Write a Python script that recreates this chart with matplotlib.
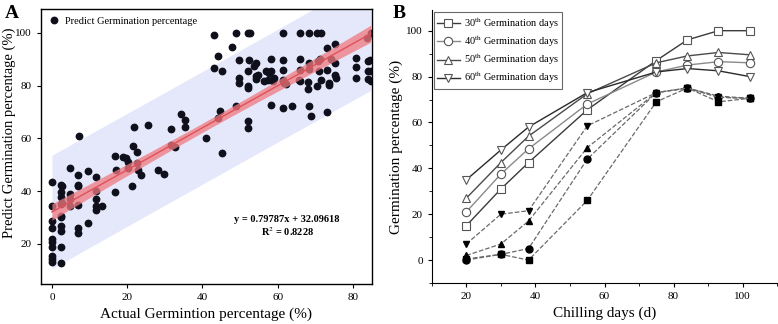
import numpy as np
import matplotlib.pyplot as plt
from matplotlib.ticker import MultipleLocator

plt.rcParams['font.family'] = ['Liberation Serif', 'DejaVu Serif']
plt.rcParams['mathtext.fontset'] = 'stix'

# ---- Panel A: predicted vs actual germination ----
actual = [
    0, 0, 0, 0, 0, 0, 0, 0, 0, 0,
    2.4, 2.6, 2.5, 2.5, 2.4, 2.4, 2.4, 2.4, 2.4, 2.4, 2.4, 2.6,
    4.9, 4.7, 4.7, 4.7,
    7.1, 6.9, 6.9, 6.9, 6.9, 6.9, 6.9,
    9.5, 9.5,
    11.6, 11.6, 11.7, 11.6, 11.7, 13.4,
    16.8, 16.9, 16.8,
    19.0, 19.7, 20.3, 20.3,
    21.2, 21.6, 21.8, 22.5, 22.6, 22.8, 23.7,
    25.6, 28.2, 29.8,
    31.7, 31.7, 32.8, 34.2, 35.4, 35.4, 40.8,
    43.0, 43.0, 44.2, 44.2, 44.7, 45.1, 45.2,
    47.8, 48.9, 48.9, 49.6, 49.6, 49.6,
    52.0, 52.5, 52.3, 52.0, 52.0, 52.0, 52.0, 52.0,
    53.8, 54.2, 54.2, 54.1, 54.7,
    56.4, 56.9, 57.3, 57.6,
    58.2, 58.2, 58.2, 58.6, 59.1,
    61.3, 61.3, 61.3, 61.3, 61.3, 61.3, 61.7, 62.2, 63.8,
    66.0, 66.0, 66.0, 65.7, 66.0,
    68.3, 68.3, 67.9, 67.9, 68.3, 68.8, 68.3,
    70.5, 71.4, 70.3, 70.8, 71.2, 71.0, 71.4,
    73.2, 73.2, 73.2, 73.6, 73.6, 74.1,
    75.2, 75.2, 75.2, 75.4,
    80.7, 80.7, 80.7,
    83.8, 84.0, 84.4, 84.7, 84.0, 84.7, 84.0, 84.7,
]
predicted = [
    43.3, 34.2, 28.5, 26.0, 21.8, 20.9, 19.0, 15.4, 14.2, 13.3,
    42.4, 41.8, 39.6, 37.7, 35.2, 30.6, 30.1, 26.6, 24.7, 19.0, 12.9, 35.4,
    48.7, 39.0, 37.0, 34.4,
    61.0, 46.2, 42.4, 41.8, 34.8, 26.0, 24.3,
    47.8, 27.8,
    45.3, 39.9, 37.1, 34.4, 32.7, 34.4,
    53.4, 48.1, 39.5,
    52.8, 52.5, 50.9, 48.7,
    41.8, 57.2, 64.3, 50.6, 54.7, 48.1, 46.0,
    64.9, 48.1, 46.5,
    57.3, 63.7, 56.7, 69.2, 66.8, 64.2, 60.1,
    99.0, 86.5, 91.4, 67.7, 70.3, 54.4, 85.7,
    94.7, 99.9, 72.2, 89.6, 82.9, 81.0,
    100.0, 100.0, 89.6, 85.7, 79.7, 79.1, 66.5, 63.8,
    87.3, 88.6, 83.5, 82.5, 84.2,
    81.6, 85.4, 82.3, 84.8,
    90.1, 85.4, 72.8, 81.6, 82.9,
    100.0, 89.6, 85.8, 82.3, 81.6, 71.5, 81.0, 80.6, 72.2,
    100.0, 90.1, 85.8, 82.0, 81.6,
    100.0, 86.3, 81.3, 78.7, 72.2, 68.4, 88.6,
    100.0, 100.0, 79.7, 89.2, 89.9, 85.7, 82.3,
    94.3, 69.9, 85.8, 81.0, 80.4, 89.9,
    95.6, 88.6, 84.2, 82.9,
    90.5, 87.1, 82.7,
    98.1, 89.2, 89.6, 100.0, 85.7, 85.4, 82.5, 81.9,
]
slope, intercept = 0.79787, 32.09618

# ---- Panel B: germination vs chilling days ----
chill_days = [20, 30, 38, 55, 75, 84, 93, 102]
open_series = {
    '30': [15, 31, 42.5, 65.5, 87, 96, 100, 100],
    '40': [21, 37.5, 48.5, 68, 82, 85, 86.5, 86],
    '50': [27, 42.5, 54, 72.5, 86, 89, 90.5, 89.5],
    '60': [35, 48, 58, 73, 82, 83.5, 82.5, 80],
}
filled_series = {
    '30': [0.5, 2.5, 0, 26, 69, 75, 69, 70.5],
    '40': [0, 2.5, 5, 44, 73, 75, 71, 70.5],
    '50': [2, 7, 17, 49, 73, 75, 71.5, 70.5],
    '60': [7, 20, 21.5, 58.5, 73, 75, 71, 70.5],
}
markers = {'30': 's', '40': 'o', '50': '^', '60': 'v'}
line_cols = {'30': '#3a3a3a', '40': '#8a8a8a', '50': '#4a4a4a', '60': '#2a2a2a'}

fig = plt.figure(figsize=(7.78, 3.24), dpi=100)

# ================= A =================
axA = fig.add_axes([0.0527, 0.1235, 0.4253, 0.8485])
x = np.array(actual)
y = np.array(predicted)
n = len(x)
resid = y - (slope * x + intercept)
s = np.sqrt(np.sum(resid ** 2) / (n - 2))
xm = x.mean()
sxx = np.sum((x - xm) ** 2)
xs = np.linspace(0, 84.7, 200)
fit = slope * xs + intercept
t = 1.976
ci = t * s * np.sqrt(1 / n + (xs - xm) ** 2 / sxx)
pi = t * s * np.sqrt(1 + 1 / n + (xs - xm) ** 2 / sxx)

axA.fill_between(xs, fit - pi, fit + pi, color='#e5e8fa', lw=0, zorder=1)
axA.plot(x, y, 'o', color='#10101c', ms=4.6, zorder=2,
         label='Predict Germination percentage')
axA.fill_between(xs, fit - ci, fit + ci, color='#f07a80', alpha=0.75, lw=0, zorder=3)
axA.plot(xs, fit, color='#e0505a', lw=1.0, zorder=4)

axA.set_xlim(-2.9, 85)
axA.set_ylim(4.8, 109)
axA.set_xticks([0, 20, 40, 60, 80])
axA.set_yticks([20, 40, 60, 80, 100])
axA.tick_params(direction='out', length=3, labelsize=8, top=False, right=False)
for sp in axA.spines.values():
    sp.set_linewidth(1.0)
axA.set_xlabel('Actual Germintion percentage (%)', fontsize=11, labelpad=4)
axA.set_ylabel('Predict Germination percentage (%)', fontsize=10.5)
axA.yaxis.set_label_coords(-0.075, 0.55)
axA.legend(loc='upper left', frameon=False, fontsize=7.5, handletextpad=0.6,
           borderaxespad=0.3, handlelength=1.0, markerscale=1.0)
axA.text(62.5, 26.5, 'y = 0.79787x + 32.09618\nR$^2$ = 0.8228', ha='center', va='center',
         fontsize=7.5, fontweight='bold', linespacing=1.1)
fig.text(0.006, 0.985, 'A', fontsize=14, fontweight='bold', va='top')

# ================= B =================
axB = fig.add_axes([0.555, 0.1265, 0.444, 0.8425])
for key in ['30', '40', '50', '60']:
    axB.plot(chill_days, filled_series[key], ls='--', color='#6a6a6a', lw=0.9,
             marker=markers[key], ms=5, mfc='black', mec='black', zorder=2)
for key in ['30', '40', '50', '60']:
    axB.plot(chill_days, open_series[key], ls='-', color=line_cols[key], lw=1.0,
             marker=markers[key], ms=6, mfc='white', mec='#555555', mew=0.8, zorder=3,
             label=key + '$^{\\mathrm{th}}$ Germination days')

axB.set_xlim(10, 110)
axB.set_ylim(-10, 109)
axB.set_xticks([20, 40, 60, 80, 100])
axB.set_yticks([0, 20, 40, 60, 80, 100])
axB.xaxis.set_minor_locator(MultipleLocator(10))
axB.yaxis.set_minor_locator(MultipleLocator(10))
axB.tick_params(which='major', direction='out', length=3, labelsize=8)
axB.tick_params(which='minor', direction='out', length=2)
axB.spines['top'].set_visible(False)
axB.spines['right'].set_visible(False)
axB.set_xlabel('Chilling days (d)', fontsize=11, labelpad=4)
axB.set_ylabel('Germination percentage (%)', fontsize=11, labelpad=2)
leg = axB.legend(loc='upper left', fontsize=7.5, frameon=True, fancybox=False,
                 edgecolor='#444444', handlelength=2.2, borderpad=0.3,
                 labelspacing=0.25, borderaxespad=0.2, handletextpad=0.4)
leg.get_frame().set_linewidth(0.8)
fig.text(0.505, 0.985, 'B', fontsize=14, fontweight='bold', va='top')

fig.savefig('out.png', dpi=100)
